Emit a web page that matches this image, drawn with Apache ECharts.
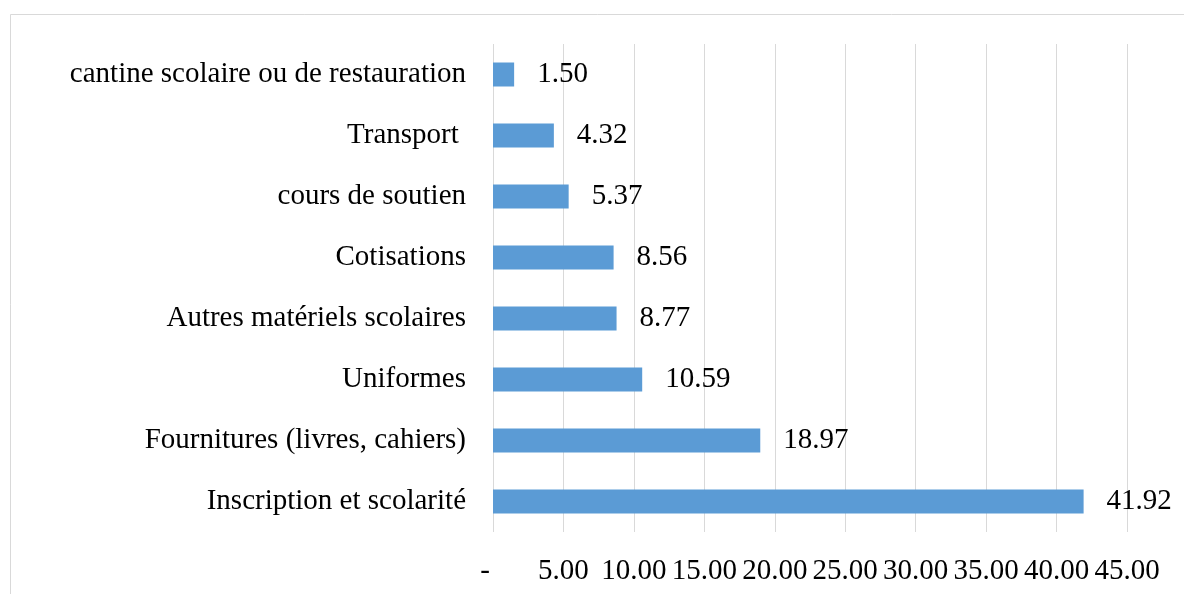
<!DOCTYPE html>
<html>
<head>
<meta charset="utf-8">
<script src="https://cdn.jsdelivr.net/npm/echarts@6/dist/echarts.min.js"></script>
<style>
  html, body { margin: 0; padding: 0; background: #fff; }
  #myChart { width: 1184px; height: 594px; }
</style>
</head>
<body>
<div id="myChart"></div>
<script>
// categories listed bottom to top
const categories = [
  'Inscription et scolarité',
  'Fournitures (livres, cahiers)',
  'Uniformes',
  'Autres matériels scolaires',
  'Cotisations',
  'cours de soutien',
  'Transport ',
  'cantine scolaire ou de restauration'
];
const values = [41.92, 18.97, 10.59, 8.77, 8.56, 5.37, 4.32, 1.50];
const xMin = 0, xMax = 45, xStep = 5;

const font = '"Liberation Serif", "Times New Roman", serif';
const myChart = echarts.init(document.getElementById('myChart'));
const option = {
  animation: false,
  backgroundColor: '#fff',
  graphic: [{
    type: 'rect',
    shape: { x: 10.5, y: 14.5, width: 1300, height: 700 },
    style: { fill: 'none', stroke: '#d9d9d9', lineWidth: 1 },
    silent: true
  }],
  grid: { left: 493, right: 57, top: 44, bottom: 62, containLabel: false },
  xAxis: {
    type: 'value',
    min: xMin,
    max: xMax,
    interval: xStep,
    axisLine: { show: false },
    axisTick: { show: false },
    splitLine: { show: true, lineStyle: { color: '#d9d9d9', width: 1 } },
    axisLabel: {
      margin: 25,
      fontFamily: font,
      fontSize: 29,
      color: '#000',
      formatter: v => v === 0 ? '{dash|-}' : v.toFixed(2),
      rich: {
        dash: { fontFamily: font, fontSize: 29, color: '#000', padding: [0, 16, 0, 0] }
      }
    }
  },
  yAxis: {
    type: 'category',
    data: categories,
    axisLine: { show: false },
    axisTick: { show: false },
    axisLabel: { margin: 27, fontFamily: font, fontSize: 29, color: '#000' }
  },
  series: [{
    type: 'bar',
    data: values,
    barWidth: 24,
    itemStyle: { color: '#5B9BD5' },
    label: {
      show: true,
      position: 'right',
      distance: 23,
      fontFamily: font,
      fontSize: 29,
      color: '#000',
      formatter: p => p.value.toFixed(2)
    }
  }]
};
myChart.setOption(option, true);
</script>
</body>
</html>
